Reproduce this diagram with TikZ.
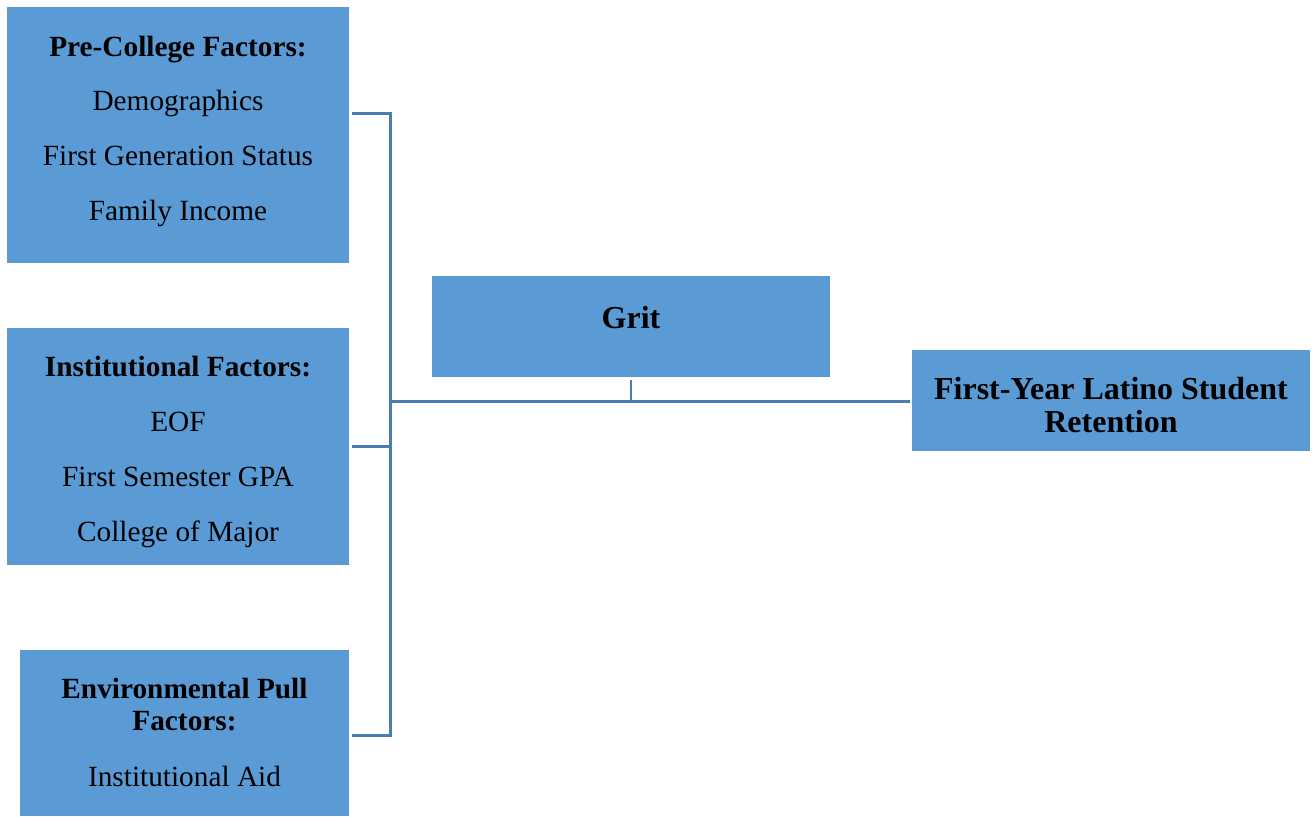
\documentclass[tikz,border=0pt]{standalone}
\usepackage{fontspec}
\setmainfont{Liberation Serif}
\definecolor{boxblue}{HTML}{5B9BD5}
\definecolor{linkblue}{HTML}{4A7EB0}
\begin{document}
\begin{tikzpicture}[x=0.5pt,y=-0.5pt,
  box/.style={fill=boxblue, anchor=north west, inner sep=0pt, outer sep=0pt},
  body/.style={align=center, inner sep=0pt, font=\fontsize{14.65}{16}\selectfont},
  big/.style={align=center, inner sep=0pt, font=\fontsize{16}{16.5}\selectfont\bfseries},
  link/.style={draw=linkblue, line width=1.5pt}]
\useasboundingbox (0,0) rectangle (1314,816);
% boxes
\node[box, minimum width=171pt, minimum height=128pt] (pre) at (7,7) {};
\node[box, minimum width=171pt, minimum height=118.5pt] (inst) at (7,328) {};
\node[box, minimum width=164.5pt, minimum height=83pt] (env) at (20,650) {};
\node[box, minimum width=199pt, minimum height=50.5pt] (grit) at (432,276) {};
\node[box, minimum width=199pt, minimum height=50.5pt] (ret) at (912,350) {};
% texts
\node[body] (pretext) at (178,131) {\textbf{Pre-College Factors:}\\[11pt]Demographics\\[11.5pt]First Generation Status\\[11.5pt]Family Income};
\node[body] (insttext) at (178,451.5) {\textbf{Institutional Factors:}\\[11.5pt]EOF\\[11.5pt]First Semester GPA\\[11.5pt]College of Major};
\node[body] (envtext) at (184.5,732) {\textbf{Environmental Pull}\\\textbf{Factors:}\\[12pt]Institutional Aid};
\node[big] (grittext) at (631,318) {Grit};
\node[big] (rettext) at (1111,405.5) {First-Year Latino Student\\Retention};
% connectors
\coordinate (jtop) at (390,113);
\coordinate (jbot) at (390,735);
\coordinate (jmid) at (390,401);
\draw[link, shorten <=1.5pt, shorten >=1.5pt] (pre.east |- jtop) -- (jtop) -- (jbot) -- (env.east |- jbot);
\draw[link, shorten <=1.5pt] (inst.east) -- (inst.east -| jtop);
\draw[link, shorten >=1pt] (jmid) -- (ret.west |- jmid);
\draw[link, line width=1pt, shorten <=1.5pt] (grit.south) -- (grit.south |- jmid);
\end{tikzpicture}
\end{document}
